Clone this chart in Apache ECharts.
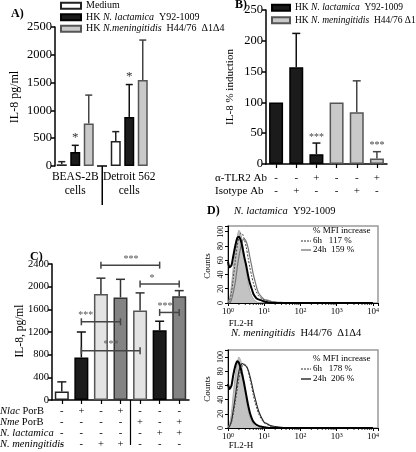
<!DOCTYPE html>
<html><head><meta charset="utf-8">
<script src="https://cdn.jsdelivr.net/npm/echarts@6/dist/echarts.min.js"></script>
<style>html,body{margin:0;padding:0;background:#fff}#c{width:416px;height:452px}</style>
</head><body><div id="c"></div>
<script>
// ---------- Panel A ----------
const cellLines = ['BEAS-2B\ncells', 'Detroit 562\ncells'];
const aMedium = [30, 450];
const aMediumErr = [78, 618];
const aLactamica = [252, 881];
const aLactamicaErr = [372, 1465];
const aMeningitidis = [765, 1545];
const aMeningitidisErr = [1275, 2265];
const aSigLactamica = ['*', '*'];
const aLegend = ['Medium', 'HK {i|N. lactamica}  Y92-1009', 'HK {i|N.meningitidis}  H44/76  Δ1Δ4'];

// ---------- Panel B ----------
const bStrain = ['lac', 'lac', 'lac', 'men', 'men', 'men'];
const bValues = [100, 157, 16, 100, 84, 9];
const bErr = [null, 212, 34, null, 135, 20];
const bSig = ['', '', '***', '', '', '***'];
const bTlr2 = ['-', '-', '+', '-', '-', '+'];
const bIsotype = ['-', '+', '-', '-', '+', '-'];
const bLegend = ['HK {i|N. lactamica}  Y92-1009', 'HK {i|N. meningitidis}  H44/76 Δ1Δ4'];

// ---------- Panel C ----------
const cKinds = ['white', 'black', 'light', 'dark', 'light', 'black', 'dark'];
const cValues = [150, 750, 1870, 1810, 1580, 1230, 1830];
const cErr = [320, 1200, 2150, 2130, 1890, 1390, 1930];
const cNlacPorB = ['-', '+', '-', '+', '-', '-', '-'];
const cNmePorB = ['-', '-', '-', '-', '+', '-', '+'];
const cNlactamica = ['-', '-', '-', '-', '-', '+', '+'];
const cNmeningitidis = ['-', '-', '+', '+', '-', '-', '-'];
// [from bar, to bar, level, label, label position (bar index)]
const cBrackets = [[2, 5, 2380, '***', 3.54], [4, 6, 2045, '*', 4.61], [5, 6, 1545, '***', 5.28], [1, 3, 1380, '***', 1.23], [1, 4, 870, '***', 2.51]];

// ---------- Panel D ----------
const fl2Bins = [1, 1.1, 1.25, 1.4, 1.6, 1.8, 2, 2.25, 2.5, 2.8, 3.2, 3.6, 4, 4.5, 5, 5.6, 6.3, 7, 8, 9, 10, 12, 14, 16, 20, 25, 30, 40, 60, 100, 300, 1000, 10000];
const dTopIso = [0, 6, 25, 50, 76, 93, 102, 97, 85, 66, 45, 28, 17, 10, 6, 3, 1.5, 0.5, 0, 0, 0, 0, 0, 0, 0, 0, 0, 0, 0, 0, 0, 0, 0];
const dTopMedium = [58, 50, 53, 66, 81, 91, 93, 88, 78, 65, 52, 38, 28, 20, 13, 9, 6, 5, 4, 3, 2, 1, 0.5, 0, 0, 0, 0, 0, 0, 0, 0, 0, 0];
const dTop6h = [0, 3, 15, 35, 60, 80, 92, 98, 97, 90, 78, 63, 50, 38, 28, 20, 14, 10, 7, 5, 4, 3, 2, 1.5, 1, 0.5, 0.3, 0.2, 0, 0, 0, 0, 0];
const dTop24h = [0, 0, 5, 15, 30, 50, 65, 78, 87, 90, 86, 77, 65, 52, 40, 30, 20, 14, 10, 7, 5, 4, 3, 2, 1.5, 1, 0.8, 0.5, 0.3, 0.2, 0.1, 0, 0];
const dBotIso = [0, 5, 22, 48, 75, 92, 100, 95, 80, 60, 40, 25, 15, 9, 5, 2, 1, 0, 0, 0, 0, 0, 0, 0, 0, 0, 0, 0, 0, 0, 0, 0, 0];
const dBotMedium = [62, 55, 60, 75, 88, 94, 92, 84, 74, 62, 46, 32, 22, 14, 9, 6, 4, 3, 2, 1.5, 1, 0.5, 0, 0, 0, 0, 0, 0, 0, 0, 0, 0, 0];
const dBot6h = [0, 2, 8, 20, 38, 55, 70, 82, 88, 90, 88, 80, 70, 58, 46, 36, 27, 20, 14, 10, 7, 5, 3, 2, 1.5, 1, 0.5, 0.3, 0, 0, 0, 0, 0];
const dBot24h = [0, 2, 10, 25, 45, 65, 80, 88, 91, 89, 87, 82, 74, 63, 52, 42, 32, 24, 17, 12, 8, 6, 4, 3, 2, 1.5, 1, 0.6, 0.3, 0.2, 0.1, 0, 0];
const dTopTitle = '{i|N. lactamica}  Y92-1009';
const dBotTitle = '{i|N. meningitidis}  H44/76  Δ1Δ4';
const dTopMfi = ['6h   117 %', '24h  159 %'];
const dBotMfi = ['6h   178 %', '24h  206 %'];
const dDecades = [0, 1, 2, 3];
const dMinorSteps = [2, 3, 4, 5, 6, 7, 8, 9];

// ================= building =================
const FONT = '"Liberation Serif", "Times New Roman", serif';
const STY = {
  white: {color: '#ffffff', borderColor: '#222', err: '#222'},
  black: {color: '#1b1b1b', borderColor: '#000', err: '#111'},
  grey:  {color: '#c9c9c9', borderColor: '#555', err: '#444'},
  light: {color: '#e3e3e3', borderColor: '#555', err: '#333'},
  dark:  {color: '#838383', borderColor: '#333', err: '#333'}
};

const aCats = ['0', '1', '2', '3', '4', '5', '6'];
function aSlotData(vals, k) { const d = Array(7).fill(null); vals.forEach((v, g) => { d[g * 4 + k] = v; }); return d; }
const aErrItems = [];
[[aMedium, aMediumErr, 'white', null], [aLactamica, aLactamicaErr, 'black', aSigLactamica], [aMeningitidis, aMeningitidisErr, 'grey', null]].forEach((s, k) => {
  s[0].forEach((v, g) => aErrItems.push({x: g * 4 + k, v: v, e: s[1][g], sig: s[3] ? s[3][g] : '', color: STY[s[2]].err}));
});

const bCats = bValues.map((v, i) => String(i));
const bErrItems = [];
bValues.forEach((v, i) => { if (bErr[i] != null) bErrItems.push({x: i, v: v, e: bErr[i], sig: bSig[i], color: bStrain[i] === 'lac' ? '#111' : '#444'}); });

const cCats = cValues.map((v, i) => String(i));
const cErrItems = cValues.map((v, i) => ({x: i, v: v, e: cErr[i], sig: '', color: STY[cKinds[i]].err}));

function errSeries(ax, items, capW, sigFont, sigColor, sigGap) {
  return {
    type: 'custom', xAxisIndex: ax, yAxisIndex: ax, z: 6, silent: true,
    data: items.map(d => [d.x, d.v, d.e]),
    renderItem: function (params, api) {
      const d = items[params.dataIndex];
      const p0 = api.coord([d.x, d.v]);
      const p1 = api.coord([d.x, d.e]);
      const ch = [
        {type: 'line', shape: {x1: p0[0], y1: p0[1], x2: p1[0], y2: p1[1]}, style: {stroke: d.color, lineWidth: 1.5}},
        {type: 'line', shape: {x1: p1[0] - capW / 2, y1: p1[1], x2: p1[0] + capW / 2, y2: p1[1]}, style: {stroke: d.color, lineWidth: 1.5}}
      ];
      if (d.sig) ch.push({type: 'text', style: {text: d.sig, x: p1[0], y: p1[1] - sigGap, textAlign: 'center', align: 'center', textVerticalAlign: 'bottom', verticalAlign: 'bottom', font: sigFont, fill: sigColor}});
      return {type: 'group', children: ch};
    }
  };
}

const bracketSeries = {
  type: 'custom', xAxisIndex: 2, yAxisIndex: 2, z: 7, silent: true,
  data: cBrackets.map(b => [b[0], b[2]]),
  renderItem: function (params, api) {
    const b = cBrackets[params.dataIndex];
    const p1 = api.coord([b[0], b[2]]);
    const p2 = api.coord([b[1], b[2]]);
    const f = Math.floor(b[4]);
    const q1 = api.coord([f, b[2]]), q2 = api.coord([f + 1, b[2]]);
    const lx = q1[0] + (q2[0] - q1[0]) * (b[4] - f);
    const st = {stroke: '#444', lineWidth: 1.5};
    return {type: 'group', children: [
      {type: 'line', shape: {x1: p1[0], y1: p1[1], x2: p2[0], y2: p2[1]}, style: st},
      {type: 'line', shape: {x1: p1[0], y1: p1[1] - 3.5, x2: p1[0], y2: p1[1] + 3.5}, style: st},
      {type: 'line', shape: {x1: p2[0], y1: p2[1] - 3.5, x2: p2[0], y2: p2[1] + 3.5}, style: st},
      {type: 'text', style: {text: b[3], x: lx, y: p1[1] - 1, textAlign: 'center', align: 'center', textVerticalAlign: 'bottom', verticalAlign: 'bottom', font: '10px ' + FONT, fill: '#555'}}
    ]};
  }
};

const logBins = fl2Bins.map(v => Math.log10(v));
function hist(ax, counts, line, area, z) {
  const s = {type: 'line', xAxisIndex: ax, yAxisIndex: ax, showSymbol: false, symbol: 'none', smooth: 0.25, z: z, silent: true,
    data: counts.map((c, i) => [logBins[i], c]), lineStyle: line};
  if (area) s.areaStyle = {color: area, opacity: 1};
  return s;
}
// log-scale minor ticks on the FL2-H axes
const minorPos = [];
dDecades.forEach(d => dMinorSteps.forEach(k => minorPos.push(d + Math.log10(k))));
function minorTicks(ax) {
  return {type: 'custom', xAxisIndex: ax, yAxisIndex: ax, z: 8, silent: true, clip: false,
    data: minorPos.map(p => [p, 0]),
    renderItem: function (params, api) {
      const p = api.coord([api.value(0), 0]);
      return {type: 'line', shape: {x1: p[0], y1: p[1], x2: p[0], y2: p[1] + 2}, style: {stroke: '#000', lineWidth: 0.8}};
    }};
}

const axLine = {show: true, lineStyle: {color: '#000', width: 1.5}};
const axTick = {show: true, length: 4, lineStyle: {color: '#000', width: 1.5}};
function lbl(size, extra) { return Object.assign({color: '#000', fontFamily: FONT, fontSize: size}, extra || {}); }
const plain = v => String(v);

const xAxes = [
  {gridIndex: 0, type: 'category', data: aCats, axisLine: {show: false}, axisTick: {show: false},
    axisLabel: lbl(11.5, {interval: 0, margin: 4, lineHeight: 14, formatter: (v, i) => i === 1 ? cellLines[0] : (i === 5 ? cellLines[1] : '')})},
  {gridIndex: 1, type: 'category', data: bCats, axisLine: axLine, axisTick: {show: true, alignWithLabel: true, length: 4, lineStyle: {color: '#000', width: 1.2}},
    axisLabel: lbl(11, {interval: 0, margin: 8, lineHeight: 13, formatter: (v, i) => bTlr2[i] + '\n' + bIsotype[i]})},
  {gridIndex: 2, type: 'category', data: cCats, axisLine: axLine, axisTick: {show: true, alignWithLabel: true, length: 4, lineStyle: {color: '#000', width: 1.2}},
    axisLabel: lbl(10.5, {interval: 0, margin: 6, lineHeight: 11, formatter: (v, i) => [cNlacPorB[i], cNmePorB[i], cNlactamica[i], cNmeningitidis[i]].join('\n')})}
];
const yAxes = [
  {gridIndex: 0, type: 'value', min: 0, max: 2500, interval: 500, axisLine: axLine, axisTick: axTick, splitLine: {show: false}, axisLabel: lbl(12.5, {margin: 3, formatter: plain})},
  {gridIndex: 1, type: 'value', min: 0, max: 250, interval: 50, axisLine: axLine, axisTick: axTick, splitLine: {show: false}, axisLabel: lbl(12.5, {margin: 3, formatter: plain})},
  {gridIndex: 2, type: 'value', min: 0, max: 2400, interval: 400, axisLine: axLine, axisTick: axTick, splitLine: {show: false}, axisLabel: lbl(10.5, {margin: 3, formatter: plain})}
];
[[3, 108], [4, 110]].forEach(([g, ymax]) => {
  xAxes.push({gridIndex: g, type: 'value', min: 0, max: 4.14, interval: 1, axisLine: {show: true, lineStyle: {color: '#000', width: 1}},
    axisTick: {show: true, length: 3, lineStyle: {color: '#000'}}, splitLine: {show: false},
    axisLabel: lbl(9, {margin: 4, formatter: v => Number.isInteger(v) ? '10{s|' + v + '}' : '',
      rich: {s: {fontFamily: FONT, fontSize: 6, lineHeight: 6, verticalAlign: 'top', color: '#000'}}})});
  yAxes.push({gridIndex: g, type: 'value', min: 0, max: ymax, interval: 20, axisLine: {show: true, lineStyle: {color: '#000', width: 1}},
    axisTick: {show: true, length: 3, lineStyle: {color: '#000'}}, splitLine: {show: false},
    axisLabel: lbl(8, {rotate: 90, margin: 3, formatter: v => v % 20 === 0 ? String(v) : ''})});
});

const series = [
  {name: 'A0', type: 'bar', xAxisIndex: 0, yAxisIndex: 0, data: aSlotData(aMedium, 0), barWidth: 10, barGap: '-100%', itemStyle: {color: STY.white.color, borderColor: STY.white.borderColor, borderWidth: 1.5}},
  {name: 'A1', type: 'bar', xAxisIndex: 0, yAxisIndex: 0, data: aSlotData(aLactamica, 1), barWidth: 10, barGap: '-100%', itemStyle: {color: STY.black.color, borderColor: STY.black.borderColor, borderWidth: 1.5}},
  {name: 'A2', type: 'bar', xAxisIndex: 0, yAxisIndex: 0, data: aSlotData(aMeningitidis, 2), barWidth: 10, barGap: '-100%', itemStyle: {color: STY.grey.color, borderColor: STY.grey.borderColor, borderWidth: 1.5}},
  errSeries(0, aErrItems, 7, '13px ' + FONT, '#333', 1),
  {name: 'B0', type: 'bar', xAxisIndex: 1, yAxisIndex: 1, data: bValues.map((v, i) => bStrain[i] === 'lac' ? v : null), barWidth: 14, barGap: '-100%', itemStyle: {color: STY.black.color, borderColor: STY.black.borderColor, borderWidth: 1.5}},
  {name: 'B1', type: 'bar', xAxisIndex: 1, yAxisIndex: 1, data: bValues.map((v, i) => bStrain[i] === 'men' ? v : null), barWidth: 14, barGap: '-100%', itemStyle: {color: STY.grey.color, borderColor: STY.grey.borderColor, borderWidth: 1.5}},
  errSeries(1, bErrItems, 8, '10px ' + FONT, '#444', 1),
  {name: 'C', type: 'bar', xAxisIndex: 2, yAxisIndex: 2, barWidth: 14,
    data: cValues.map((v, i) => ({value: v, itemStyle: {color: STY[cKinds[i]].color, borderColor: STY[cKinds[i]].borderColor, borderWidth: 1.5}}))},
  errSeries(2, cErrItems, 9, '10px ' + FONT, '#333', 1),
  bracketSeries,
  hist(3, dTopIso, {color: '#aaa', width: 1}, '#c3c3c3', 2),
  hist(3, dTop24h, {color: '#777', width: 1.2}, null, 3),
  hist(3, dTop6h, {color: '#444', width: 1, type: [2, 1.5]}, null, 4),
  hist(3, dTopMedium, {color: '#000', width: 2}, null, 5),
  hist(4, dBotIso, {color: '#aaa', width: 1}, '#c3c3c3', 2),
  hist(4, dBot24h, {color: '#222', width: 1.1}, null, 3),
  hist(4, dBot6h, {color: '#444', width: 1, type: [2, 1.5]}, null, 4),
  hist(4, dBotMedium, {color: '#000', width: 2}, null, 5),
  minorTicks(3),
  minorTicks(4)
];

const richA = {i: {fontFamily: FONT, fontStyle: 'italic', fontSize: 10, color: '#000'}};
const richB = {i: {fontFamily: FONT, fontStyle: 'italic', fontSize: 9.5, color: '#000'}};
const legendMapA = {A0: aLegend[0], A1: aLegend[1], A2: aLegend[2]};
const legendMapB = {B0: bLegend[0], B1: bLegend[1]};

function txt(text, x, y, size, opts) {
  opts = opts || {};
  return {type: 'text', x: x, y: y, rotation: opts.rot || 0, silent: true, z: 100,
    style: {text: text, x: 0, y: 0, fill: '#000', fontFamily: FONT, fontSize: size, fontWeight: opts.bold ? 'bold' : 'normal',
      textAlign: opts.align || 'left', align: opts.align || 'left', textVerticalAlign: 'middle', verticalAlign: 'middle',
      rich: {i: {fontFamily: FONT, fontStyle: 'italic', fontSize: size, fill: '#000'}}}};
}
function seg(x1, y1, x2, y2, color, w, dash) {
  return {type: 'line', silent: true, z: 100, shape: {x1: x1, y1: y1, x2: x2, y2: y2}, style: {stroke: color, lineWidth: w, lineDash: dash || null}};
}

const graphic = [
  txt('A)', 11, 14, 12, {bold: true}),
  txt('B)', 235, 5, 12, {bold: true}),
  txt('C)', 30, 257, 12, {bold: true}),
  txt('D)', 207, 211, 12, {bold: true}),
  txt('IL-8 pg/ml', 15, 97, 12, {rot: Math.PI / 2, align: 'center'}),
  txt('IL-8 % induction', 230, 87, 11, {rot: Math.PI / 2, align: 'center'}),
  txt('IL-8, pg/ml', 20, 331, 11.5, {rot: Math.PI / 2, align: 'center'}),
  txt('α-TLR2 Ab', 215, 178, 11),
  txt('Isotype Ab', 215, 191, 11),
  txt('{i|Nlac} PorB', 0, 411.5, 10.5),
  txt('{i|Nme} PorB', 0, 422.5, 10.5),
  txt('{i|N. lactamica}', 0, 433.5, 10.5),
  txt('{i|N. meningitidis}', 0, 444.5, 10.5),
  seg(102.25, 166, 102.25, 205, '#000', 1.5),
  seg(97, 166, 107, 166, '#000', 1.5),
  seg(130.5, 400, 130.5, 445, '#000', 1.2),
  txt(dTopTitle, 234, 211, 10.5),
  txt(dBotTitle, 231, 333, 10.5),
  txt('% MFI increase', 313, 231, 9),
  txt(dTopMfi[0], 313, 241, 9),
  txt(dTopMfi[1], 313, 250, 9),
  seg(301, 241, 311, 241, '#333', 1, [2, 1]),
  seg(301, 250, 311, 250, '#888', 1.5),
  txt('% MFI increase', 313, 359, 9),
  txt(dBotMfi[0], 313, 369, 9),
  txt(dBotMfi[1], 313, 379, 9),
  seg(301, 369, 311, 369, '#333', 1, [2, 1]),
  seg(301, 379, 311, 379, '#000', 1.2),
  txt('FL2-H', 241, 324, 9, {align: 'center'}),
  txt('FL2-H', 241, 446, 9, {align: 'center'}),
  txt('Counts', 208, 266, 9, {rot: Math.PI / 2, align: 'center'}),
  txt('Counts', 208, 389, 9, {rot: Math.PI / 2, align: 'center'})
];

const option = {
  animation: false,
  backgroundColor: '#fff',
  textStyle: {fontFamily: FONT},
  grid: [
    {left: 55, top: 27, width: 94.5, height: 139},
    {left: 266, top: 10, width: 121, height: 154},
    {left: 52, top: 264, width: 137, height: 136},
    {left: 228, top: 226, width: 150, height: 77, show: true, borderColor: '#999', borderWidth: 1.5},
    {left: 228, top: 350, width: 150, height: 78, show: true, borderColor: '#999', borderWidth: 1.5}
  ],
  legend: [
    {data: ['A0', 'A1', 'A2'], orient: 'vertical', left: 60, top: 0, padding: 0, itemWidth: 20, itemHeight: 6, itemGap: 0, icon: 'rect', selectedMode: false,
      formatter: n => legendMapA[n], textStyle: {fontFamily: FONT, fontSize: 10, lineHeight: 11.5, color: '#000', rich: richA}},
    {data: ['B0', 'B1'], orient: 'vertical', left: 271, top: 2, padding: 0, itemWidth: 18, itemHeight: 6, itemGap: 1, icon: 'rect', selectedMode: false,
      formatter: n => legendMapB[n], textStyle: {fontFamily: FONT, fontSize: 9.5, lineHeight: 11.5, color: '#000', rich: richB}}
  ],
  xAxis: xAxes,
  yAxis: yAxes,
  series: series,
  graphic: graphic
};
const chart = echarts.init(document.getElementById('c'));
chart.setOption(option);
</script></body></html>
